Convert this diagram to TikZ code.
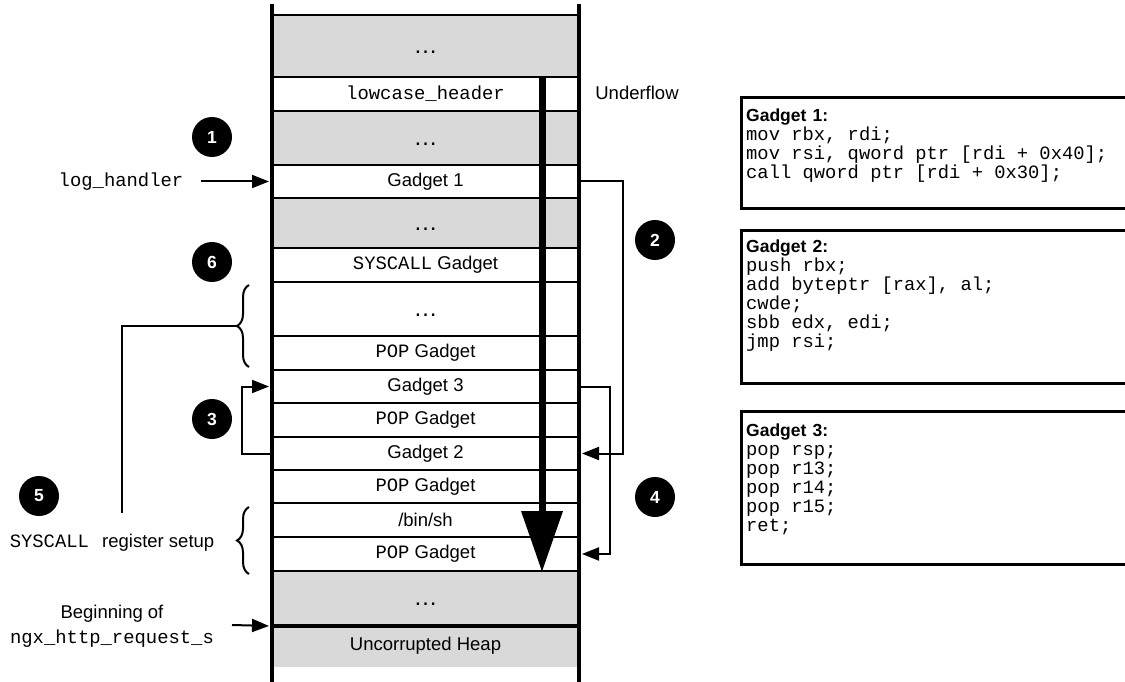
\documentclass[tikz,border=0pt]{standalone}
\usepackage{fontspec}
\setmainfont{Liberation Sans}
\setmonofont[Scale=1.02]{Liberation Mono}
\newfontfamily\codefont{Liberation Mono}
\usetikzlibrary{arrows.meta,decorations.pathreplacing}
\setlength{\parindent}{0pt}
\definecolor{heapgray}{RGB}{217,217,217}
\newcommand{\gapdots}{{\fontsize{24}{24}\selectfont\ldots}}
\newcommand{\codelines}{\codefont\fontsize{18.8}{19}\selectfont\spaceskip=0pt\xspaceskip=0pt}
\tikzset{
  >={Triangle[length=17pt,width=13pt]},
  every node/.style={font=\fontsize{18.5}{22}\selectfont},
  cell/.style={draw,line width=2pt,minimum width=307pt,inner sep=0pt},
  graycell/.style={cell,fill=heapgray},
  dotcell/.style={text height=15pt,text depth=0pt},
  stepnum/.style={circle,fill=black,text=white,minimum size=40pt,inner sep=0pt,font=\fontsize{17.5}{20}\selectfont\bfseries},
  codebox/.style={draw,line width=3pt,minimum width=420pt,anchor=north west,inner sep=0pt},
  codetext/.style={anchor=north west,text width=390pt,align=left,inner sep=0pt,font=\fontsize{18.5}{19}\selectfont},
  wall/.style={line width=4.5pt},
  jump/.style={line width=2pt,->,shorten >=2pt},
  curly/.style={line width=2pt,decorate,decoration={brace,amplitude=12pt}}
}
\begin{document}
\begin{tikzpicture}[x=1pt,y=-1pt]
\useasboundingbox (0,0) rectangle (1125,682);
% stack rows
\node[graycell,dotcell,minimum height=62pt] (top) at (425.5,46) {\gapdots};
\node[cell,minimum height=34pt] (lowcase) at (425.5,94) {\texttt{lowcase\_header}};
\node[graycell,dotcell,minimum height=54pt] (gap1) at (425.5,138) {\gapdots};
\node[cell,minimum height=33pt] (g1) at (425.5,181.5) {Gadget 1};
\node[graycell,dotcell,minimum height=50pt] (gap2) at (425.5,223) {\gapdots};
\node[cell,minimum height=34pt] (sysg) at (425.5,265) {\texttt{SYSCALL} Gadget};
\node[cell,dotcell,minimum height=54pt] (gap3) at (425.5,309) {\gapdots};
\node[cell,minimum height=34pt] (pop1) at (425.5,353) {\texttt{POP} Gadget};
\node[cell,minimum height=33pt] (g3) at (425.5,386.5) {Gadget 3};
\node[cell,minimum height=34pt] (pop2) at (425.5,420) {\texttt{POP} Gadget};
\node[cell,minimum height=33pt] (g2) at (425.5,453.5) {Gadget 2};
\node[cell,minimum height=33pt] (pop3) at (425.5,486.5) {\texttt{POP} Gadget};
\node[cell,minimum height=34pt] (binsh) at (425.5,520) {/bin/sh};
\node[cell,minimum height=34pt] (pop4) at (425.5,554) {\texttt{POP} Gadget};
\node[graycell,dotcell,minimum height=54pt] (gap4) at (425.5,598) {\gapdots};
\node[fill=heapgray,minimum width=307pt,minimum height=42pt,inner sep=0pt] (heap) at (425.5,646) {Uncorrupted Heap};
\draw[line width=3pt] (gap4.south west) -- (gap4.south east);
% underflow direction
\coordinate (flowx) at (542,0);
\draw[line width=7pt,-{Triangle[length=61pt,width=40pt]}] (lowcase.north -| flowx) -- (pop4.south -| flowx);
\draw[wall] (272,4) -- (272,682);
\draw[wall] (579,4) -- (579,682);
\node (uflow) at (637,93) {Underflow};
% left side
\node (loghdl) at (121,181.5) {\texttt{log\_handler}};
\coordinate (logfrom) at (201,181.5);
\draw[jump] (logfrom) -- (g1.west);
\draw[jump] (g2.west) -- ++(-29,0) |- (g3.west);
\draw[curly] (249,367) -- (249,285);
\draw[curly] (249,574) -- (249,507);
\coordinate (settip) at (237,326);
\coordinate (setline) at (122,513);
\draw[line width=2pt] (settip) -| (setline);
\node (regsetup) at (112,543) {\texttt{SYSCALL}\hspace{8pt} register setup};
\node[align=center,font=\fontsize{18.5}{25}\selectfont] (begin) at (112,626) {Beginning of\\\texttt{ngx\_http\_request\_s}};
\coordinate (beginfrom) at (232,625);
\draw[jump] (beginfrom) -- (gap4.south west);
% right side
\draw[jump] (g1.east) -- ++(43,0) |- (g2.east);
\draw[jump] (g3.east) -- ++(30,0) |- (pop4.east);
% steps
\node[stepnum] (s1) at (212,137) {1};
\node[stepnum] (s2) at (655,240) {2};
\node[stepnum] (s3) at (212,419) {3};
\node[stepnum] (s4) at (655,497) {4};
\node[stepnum] (s5) at (39,496) {5};
\node[stepnum] (s6) at (212,262) {6};
% gadget listings
\node[codebox,minimum height=111pt] (box1) at (740,96) {};
\node[codetext] (code1) at (746,109) {{\bfseries\fontsize{17.5}{19}\selectfont Gadget 1:}\\
\codelines mov rbx, rdi;\\
mov rsi, qword ptr [rdi + 0x40];\\
call qword ptr [rdi + 0x30];};
\node[codebox,minimum height=153pt] (box2) at (740,229) {};
\node[codetext] (code2) at (746,240) {{\bfseries\fontsize{17.5}{19}\selectfont Gadget 2:}\\
\codelines push rbx;\\
add byteptr [rax], al;\\
cwde;\\
sbb edx, edi;\\
jmp rsi;};
\node[codebox,minimum height=153pt] (box3) at (740,410) {};
\node[codetext] (code3) at (746,424) {{\bfseries\fontsize{17.5}{19}\selectfont Gadget 3:}\\
\codelines pop rsp;\\
pop r13;\\
pop r14;\\
pop r15;\\
ret;};
\end{tikzpicture}
\end{document}
